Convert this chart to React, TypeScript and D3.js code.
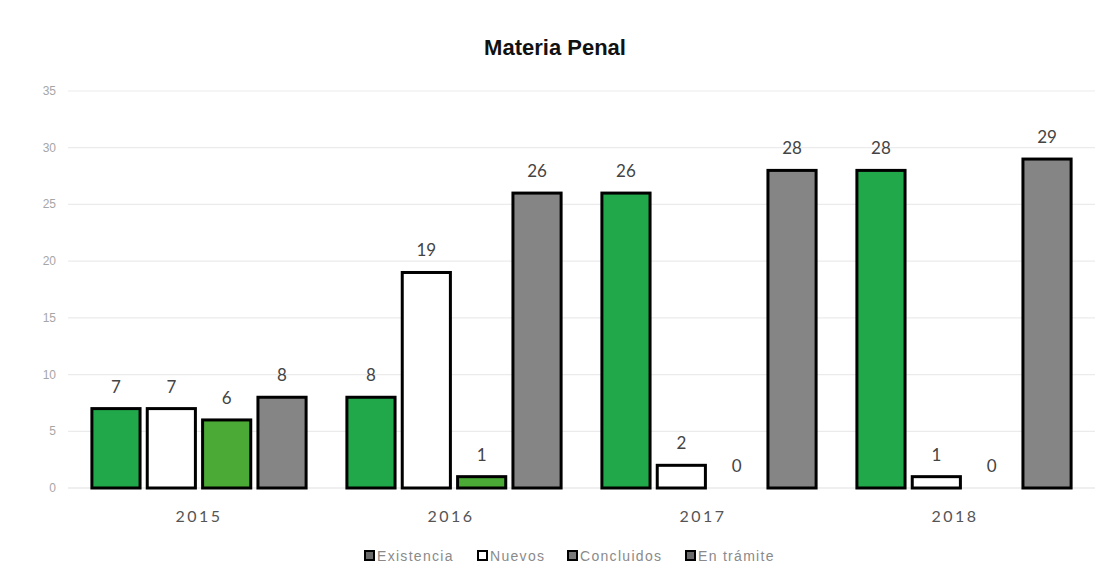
import React from "react";
import * as d3 from "d3";

const years = ["2015", "2016", "2017", "2018"];
const seriesNames = ["Existencia", "Nuevos", "Concluidos", "En trámite"];
const existencia = [7, 8, 26, 28];
const nuevos = [7, 19, 2, 1];
const concluidos = [6, 1, 0, 0];
const enTramite = [8, 26, 28, 29];
const yTicks = [0, 5, 10, 15, 20, 25, 30, 35];
const colors = ["#21a84a", "#ffffff", "#4aaa35", "#858585"];
const legendColors = ["#6a6a6a", "#ffffff", "#7a7a7a", "#6a6a6a"];

export default function App() {
  const W = 1110, H = 586;
  const left = 71.5, right = 1091.5, top = 91, bottom = 488;
  const values = [existencia, nuevos, concluidos, enTramite];
  const x0 = d3.scaleBand<string>().domain(years).range([left, right]).paddingInner(0.16).paddingOuter(0.08);
  const x1 = d3.scaleBand<string>().domain(seriesNames).range([0, x0.bandwidth()]).paddingInner(0.13).paddingOuter(0);
  const y = d3.scaleLinear().domain([0, 35]).range([bottom, top]);
  const legendX = [365, 478, 568, 686];
  return (
    <svg width={W} height={H} style={{ position: "absolute", left: 0, top: 0, background: "#fff" }}>
      <text x={555} y={55} textAnchor="middle" fontFamily="Liberation Sans, Arial" fontWeight="bold" fontSize={22} fill="#111">
        Materia Penal
      </text>
      {yTicks.map((t) => (
        <g key={t}>
          {t > 0 && <line x1={68} x2={1095} y1={y(t)} y2={y(t)} stroke="#ebebeb" strokeWidth={1.2} />}
          <text x={56} y={y(t) + 4} textAnchor="end" fontFamily="Liberation Sans, Arial" fontSize={12} fill="#a6a6a6">{t}</text>
        </g>
      ))}
      <line x1={68} x2={1095} y1={bottom} y2={bottom} stroke="#e0e0e0" strokeWidth={1.2} />
      {years.map((yr, i) => (
        <g key={yr} transform={`translate(${x0(yr)},0)`}>
          {seriesNames.map((s, j) => {
            const v = values[j][i];
            const bx = x1(s)!;
            const bw = x1.bandwidth();
            return (
              <g key={s}>
                {v > 0 && (
                  <rect x={bx} y={y(v)} width={bw} height={bottom - y(v)} fill={colors[j]} stroke="#000" strokeWidth={3} />
                )}
                <text x={bx + bw / 2} y={y(v) - 16} textAnchor="middle" fontFamily="Lato, Open Sans, sans-serif" fontSize={17} fill="#444">{v}</text>
              </g>
            );
          })}
          <text x={x0.bandwidth() / 2 - (i * 3)} y={522} textAnchor="middle" fontFamily="Lato, Open Sans, sans-serif" fontSize={16} fill="#555" letterSpacing={2.5}>{yr}</text>
        </g>
      ))}
      {seriesNames.map((s, j) => (
        <g key={s} transform={`translate(${legendX[j]},${556})`}>
          <rect x={0} y={-5} width={9} height={9} fill={legendColors[j]} stroke="#000" strokeWidth={2} />
          <text x={12} y={5} fontFamily="Liberation Sans, Arial" fontSize={14} fill="#8a8a8a" letterSpacing={1.3}>{s}</text>
        </g>
      ))}
    </svg>
  );
}
